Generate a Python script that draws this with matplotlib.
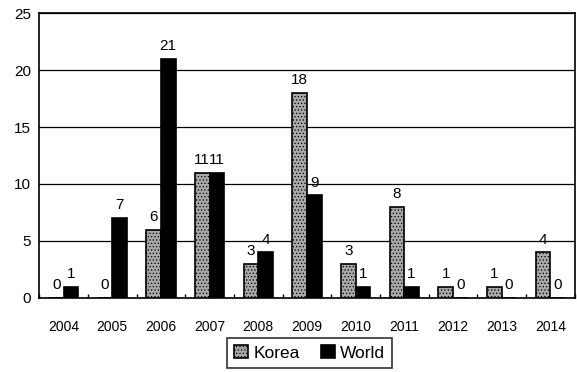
import numpy as np
import matplotlib
matplotlib.use('Agg')
import matplotlib.pyplot as plt

years = ['2004', '2005', '2006', '2007', '2008', '2009', '2010', '2011', '2012', '2013', '2014']
korea = [0, 0, 6, 11, 3, 18, 3, 8, 1, 1, 4]
world = [1, 7, 21, 11, 4, 9, 1, 1, 0, 0, 0]

plt.rcParams['font.family'] = ['Liberation Sans', 'DejaVu Sans']
plt.rcParams['hatch.linewidth'] = 0.5

fig = plt.figure(figsize=(5.77, 3.72), dpi=100)
ax = fig.add_axes([0.068, 0.199, 0.928, 0.766])

x = np.arange(len(years))
w = 0.3
kb = ax.bar(x - w / 2, korea, w, color='#a8a8a8', edgecolor='black', linewidth=1.2,
            hatch='.....', label='Korea', zorder=3)
wb = ax.bar(x + w / 2, world, w, color='black', edgecolor='black', linewidth=1.2,
            label='World', zorder=3)

# value labels above each bar
for xi, v in zip(x, korea):
    ax.text(xi - w / 2, v + 0.5, str(v), ha='center', va='bottom', fontsize=11)
for xi, v in zip(x, world):
    ax.text(xi + w / 2, v + 0.5, str(v), ha='center', va='bottom', fontsize=11)

ax.set_xlim(-0.5, len(years) - 0.5)
ax.set_ylim(0, 25)
ax.set_yticks([0, 5, 10, 15, 20, 25])
ax.set_xticks(x)
ax.set_xticklabels(years)
ax.tick_params(axis='x', length=0, pad=16, labelsize=10)
ax.tick_params(axis='y', length=0, pad=6, labelsize=11)
ax.set_xticks(np.arange(-0.5, len(years)), minor=True)
ax.tick_params(axis='x', which='minor', direction='in', length=3, width=1)
ax.yaxis.grid(True, color='black', linewidth=0.9)
ax.set_axisbelow(True)
for s in ax.spines.values():
    s.set_linewidth(1.2)
    s.set_color('black')

leg = ax.legend(loc='center', bbox_to_anchor=(0.505, -0.193), ncol=2, frameon=True,
                fancybox=False, edgecolor='black', fontsize=12.5, handlelength=0.8,
                handleheight=0.8, handletextpad=0.3, columnspacing=1.2,
                borderpad=0.4)
leg.get_frame().set_linewidth(1.2)

fig.savefig('out.png', dpi=100)
